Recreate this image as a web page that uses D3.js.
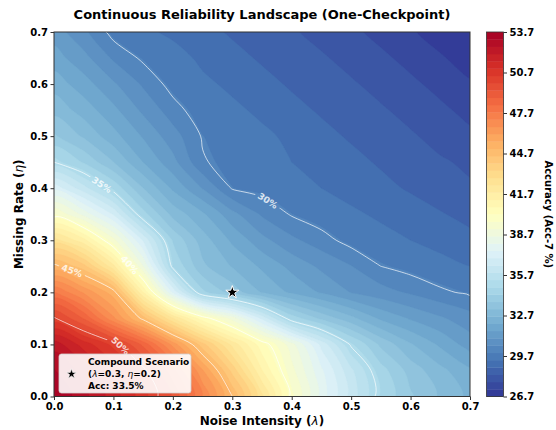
<!DOCTYPE html>
<html>
<head>
<meta charset="utf-8">
<script src="https://cdn.jsdelivr.net/npm/d3@7"></script>
<style>
  body { margin: 0; background: #fff; }
  svg text { font-family: "DejaVu Sans", sans-serif; }
</style>
</head>
<body>
<svg id="chart" width="556" height="430"></svg>
<script>
// ---------------- DATA ----------------
const noiseIntensity = [0.00, 0.05, 0.10, 0.15, 0.20, 0.25, 0.30, 0.35, 0.40, 0.45, 0.50, 0.55, 0.60, 0.65, 0.70];
const missingRate    = [0.00, 0.05, 0.10, 0.15, 0.20, 0.25, 0.30, 0.35, 0.40, 0.45, 0.50, 0.55, 0.60, 0.65, 0.70];

// accuracy (Acc-7 %) per missing-rate row, columns follow noiseIntensity
const accEta000 = [53.7, 52.8, 51.8, 50.7, 49.3, 47.2, 45.0, 42.5, 39.8, 37.8, 36.2, 34.7, 33.8, 33.1, 32.5];
const accEta005 = [53.2, 52.4, 51.3, 50.2, 48.5, 46.2, 43.8, 41.3, 39.3, 37.6, 36.0, 34.5, 33.5, 32.8, 32.2];
const accEta010 = [52.4, 51.3, 50.3, 48.7, 46.5, 44.2, 42.2, 40.4, 38.8, 36.8, 34.9, 33.6, 32.7, 32.0, 31.3];
const accEta015 = [50.1, 48.8, 46.8, 44.8, 42.4, 40.4, 38.9, 36.8, 34.6, 33.6, 32.8, 32.0, 31.5, 31.1, 30.7];
const accEta020 = [47.8, 46.6, 45.3, 41.3, 37.4, 34.4, 33.5, 32.6, 32.0, 31.5, 31.0, 30.7, 30.4, 30.1, 29.9];
const accEta025 = [45.2, 44.2, 42.0, 38.6, 34.8, 33.3, 32.6, 32.0, 31.4, 30.9, 30.5, 30.0, 29.8, 29.6, 29.4];
const accEta030 = [42.6, 41.5, 39.3, 36.9, 34.2, 32.9, 32.0, 31.2, 30.6, 30.2, 29.8, 29.6, 29.4, 29.2, 29.0];
const accEta035 = [39.7, 38.4, 36.9, 34.5, 33.0, 32.2, 31.2, 30.4, 29.95, 29.7, 29.5, 29.3, 29.1, 28.9, 28.7];
const accEta040 = [37.3, 36.1, 34.7, 33.2, 32.0, 31.0, 29.95, 29.8, 29.6, 29.4, 29.2, 29.0, 28.8, 28.6, 28.4];
const accEta045 = [35.0, 34.2, 33.2, 32.1, 31.2, 30.05, 29.8, 29.6, 29.4, 29.2, 29.0, 28.8, 28.6, 28.4, 28.2];
const accEta050 = [33.8, 33.1, 32.3, 31.5, 30.7, 29.95, 29.7, 29.5, 29.3, 29.0, 28.8, 28.6, 28.4, 28.1, 27.9];
const accEta055 = [33.0, 32.4, 31.7, 30.9, 30.2, 29.7, 29.5, 29.3, 29.0, 28.8, 28.6, 28.4, 28.1, 27.9, 27.6];
const accEta060 = [32.4, 31.8, 31.1, 30.4, 29.8, 29.5, 29.3, 29.0, 28.8, 28.6, 28.4, 28.1, 27.9, 27.6, 27.3];
const accEta065 = [31.8, 31.2, 30.4, 29.9, 29.6, 29.3, 29.0, 28.8, 28.6, 28.4, 28.1, 27.9, 27.6, 27.3, 27.0];
const accEta070 = [31.3, 30.6, 29.8, 29.5, 29.3, 29.0, 28.8, 28.6, 28.4, 28.1, 27.9, 27.6, 27.3, 27.0, 26.7];
const accuracyRows = [accEta000, accEta005, accEta010, accEta015, accEta020, accEta025, accEta030,
  accEta035, accEta040, accEta045, accEta050, accEta055, accEta060, accEta065, accEta070];

const contourLevels = [30, 35, 40, 45, 50];
const colorbarTicks = [26.7, 29.7, 32.7, 35.7, 38.7, 41.7, 44.7, 47.7, 50.7, 53.7];
const xTicks = [0.0, 0.1, 0.2, 0.3, 0.4, 0.5, 0.6, 0.7];
const yTicks = [0.0, 0.1, 0.2, 0.3, 0.4, 0.5, 0.6, 0.7];
const scenarioLambda = 0.3, scenarioEta = 0.2, scenarioAcc = 33.5;

// ---------------- LAYOUT / STYLE ----------------
const labelAnchors = [[0.355, 0.368], [0.080, 0.406], [0.131, 0.257], [0.034, 0.253], [0.114, 0.100]];
const rdylbu_r = ["#313695","#4575b4","#74add1","#abd9e9","#e0f3f8","#ffffbf","#fee090","#fdae61","#f46d43","#d73027","#a50026"];
const X0 = 54, X1 = 470, YT = 32, YB = 396.5;
const CB0 = 486.5, CB1 = 503.5;
const FONT = '"DejaVu Sans", sans-serif';

const svg = d3.select("#chart");
const defs = svg.append("defs");
defs.append("clipPath").attr("id", "plotClip")
  .append("rect").attr("x", X0).attr("y", YT).attr("width", X1 - X0).attr("height", YB - YT);

const x = d3.scaleLinear().domain([0, 0.7]).range([X0, X1]);
const y = d3.scaleLinear().domain([0, 0.7]).range([YB, YT]);

const nx = noiseIntensity.length, ny = missingRate.length;
const values = accuracyRows.flat();
const gx = d3.scaleLinear().domain([0.5, nx - 0.5]).range([noiseIntensity[0], noiseIntensity[nx - 1]]);
const gy = d3.scaleLinear().domain([0.5, ny - 0.5]).range([missingRate[0], missingRate[ny - 1]]);
const toPx = p => [x(gx(p[0])), y(gy(p[1]))];

const vmin = d3.min(values), vmax = d3.max(values);
const color = d3.scaleLinear()
  .domain(rdylbu_r.map((c, i) => vmin + (vmax - vmin) * i / (rdylbu_r.length - 1)))
  .range(rdylbu_r).interpolate(d3.interpolateRgb).clamp(true);

const nBands = 50;
const bandEdges = d3.range(nBands + 1).map(i => vmin + (vmax - vmin) * i / nBands);
const bandColor = i => color((bandEdges[i] + bandEdges[i + 1]) / 2);

// ---------------- FILLED CONTOURS ----------------
const closedLine = d3.line().curve(d3.curveCatmullRomClosed.alpha(0.5));
const mpPath = mp => mp.coordinates.map(poly =>
  poly.map(ring => closedLine(ring.slice(0, -1).map(toPx))).join("")).join("");

const bands = d3.contours().size([nx, ny]).thresholds(bandEdges.slice(0, -1))(values);
const gFill = svg.append("g").attr("clip-path", "url(#plotClip)");
gFill.append("rect").attr("x", X0).attr("y", YT).attr("width", X1 - X0).attr("height", YB - YT)
  .attr("fill", bandColor(0));
gFill.selectAll("path").data(bands).join("path")
  .attr("d", d => mpPath(d))
  .attr("fill", (d, i) => bandColor(i))
  .attr("stroke", (d, i) => bandColor(i)).attr("stroke-width", 0.3);

// ---------------- CONTOUR LINES ----------------
function openLines(ring) {
  const pts = ring.slice(0, -1), n = pts.length;
  const onB = p => p[0] <= 0 || p[0] >= nx || p[1] <= 0 || p[1] >= ny;
  let start = -1;
  for (let i = 0; i < n; i++) {
    if (onB(pts[(i - 1 + n) % n]) && onB(pts[i])) { start = i; break; }
  }
  if (start < 0) return [pts.concat([pts[0]])];
  const out = []; let cur = [];
  for (let k = 0; k < n; k++) {
    const i = (start + k) % n, p = pts[i], prev = pts[(i - 1 + n) % n];
    if (onB(p) && onB(prev)) { if (cur.length > 1) out.push(cur); cur = [p]; }
    else cur.push(p);
  }
  if (cur.length > 1) out.push(cur);
  return out;
}

const openLine = d3.line().curve(d3.curveCatmullRom.alpha(0.5));
const mask = defs.append("mask").attr("id", "lblMask").attr("maskUnits", "userSpaceOnUse")
  .attr("x", 0).attr("y", 0).attr("width", 556).attr("height", 430);
mask.append("rect").attr("x", 0).attr("y", 0).attr("width", 556).attr("height", 430).attr("fill", "#fff");

const gLinesClip = svg.append("g").attr("clip-path", "url(#plotClip)");
const gLines = gLinesClip.append("g").attr("mask", "url(#lblMask)");
const gLabels = svg.append("g");

contourLevels.forEach((lv, k) => {
  const mp = d3.contours().size([nx, ny]).thresholds([lv])(values)[0];
  const polylines = [];
  mp.coordinates.forEach(poly => poly.forEach(ring =>
    openLines(ring).forEach(l => polylines.push(l.map(toPx)))));
  polylines.forEach(pl => {
    gLines.append("path").attr("d", openLine(pl))
      .attr("fill", "none").attr("stroke", "#fff").attr("stroke-opacity", 0.75).attr("stroke-width", 0.9);
  });
  const a = [x(labelAnchors[k][0]), y(labelAnchors[k][1])];
  let best = null;
  polylines.forEach(pl => {
    for (let i = 0; i < pl.length - 1; i++) {
      const p = pl[i], q = pl[i + 1];
      const dx = q[0] - p[0], dy = q[1] - p[1];
      const L2 = dx * dx + dy * dy; if (L2 === 0) continue;
      let t = ((a[0] - p[0]) * dx + (a[1] - p[1]) * dy) / L2; t = Math.max(0, Math.min(1, t));
      const c = [p[0] + t * dx, p[1] + t * dy];
      const dist = Math.hypot(c[0] - a[0], c[1] - a[1]);
      if (!best || dist < best.dist) best = { dist, c, ang: Math.atan2(dy, dx) * 180 / Math.PI };
    }
  });
  if (!best) return;
  let ang = best.ang; if (ang > 90) ang -= 180; if (ang < -90) ang += 180;
  const t = gLabels.append("text")
    .attr("transform", `translate(${best.c[0]},${best.c[1]}) rotate(${ang})`)
    .attr("text-anchor", "middle").attr("dy", "0.35em")
    .attr("font-size", 9).attr("font-weight", "bold")
    .attr("fill", "#fff").attr("fill-opacity", 0.8)
    .text(lv + "%");
  const w = t.node().getComputedTextLength();
  mask.append("rect").attr("transform", `translate(${best.c[0]},${best.c[1]}) rotate(${ang})`)
    .attr("x", -w / 2 - 3).attr("y", -6).attr("width", w + 6).attr("height", 12).attr("fill", "#000");
});

// ---------------- SCENARIO STAR ----------------
svg.append("path")
  .attr("d", d3.symbol(d3.symbolStar, 52)())
  .attr("transform", `translate(${x(scenarioLambda)},${y(scenarioEta)})`)
  .attr("fill", "#000").attr("stroke", "#fff").attr("stroke-width", 1);

// ---------------- FRAME & AXES ----------------
svg.append("rect").attr("x", X0).attr("y", YT).attr("width", X1 - X0).attr("height", YB - YT)
  .attr("fill", "none").attr("stroke", "#333").attr("stroke-width", 1);

const fmt = d3.format(".1f");
const gx_ = svg.append("g").attr("transform", `translate(0,${YB})`)
  .call(d3.axisBottom(x).tickValues(xTicks).tickFormat(fmt).tickSize(3.5).tickSizeOuter(0).tickPadding(2.5));
const gy_ = svg.append("g").attr("transform", `translate(${X0},0)`)
  .call(d3.axisLeft(y).tickValues(yTicks).tickFormat(fmt).tickSize(3.5).tickSizeOuter(0).tickPadding(2.5));
[gx_, gy_].forEach(g => {
  g.select(".domain").remove();
  g.attr("font-family", FONT).attr("font-size", 10);
  g.selectAll(".tick line").attr("stroke", "#333");
  g.selectAll(".tick text").attr("font-weight", "bold").attr("fill", "#000");
});

const xl = svg.append("text").attr("x", (X0 + X1) / 2).attr("y", 425)
  .attr("text-anchor", "middle").attr("font-size", 12).attr("font-weight", "bold");
xl.append("tspan").text("Noise Intensity (");
xl.append("tspan").attr("font-style", "italic").attr("font-weight", "normal").text("λ");
xl.append("tspan").text(")");

const yl = svg.append("text").attr("transform", `translate(23,${(YT + YB) / 2}) rotate(-90)`)
  .attr("text-anchor", "middle").attr("font-size", 12).attr("font-weight", "bold");
yl.append("tspan").text("Missing Rate (");
yl.append("tspan").attr("font-style", "italic").attr("font-weight", "normal").text("η");
yl.append("tspan").text(")");

svg.append("text").attr("x", (X0 + X1) / 2).attr("y", 19)
  .attr("text-anchor", "middle").attr("font-size", 13).attr("font-weight", "bold")
  .text("Continuous Reliability Landscape (One-Checkpoint)");

// ---------------- LEGEND ----------------
const lg = svg.append("g");
lg.append("rect").attr("x", 59).attr("y", 354).attr("width", 132).attr("height", 39).attr("rx", 2.5)
  .attr("fill", "#fff").attr("fill-opacity", 0.9).attr("stroke", "#d0d0d0").attr("stroke-width", 0.8);
lg.append("path").attr("d", d3.symbol(d3.symbolStar, 30)())
  .attr("transform", "translate(71.5,374)").attr("fill", "#000").attr("stroke", "#fff").attr("stroke-width", 0.6);
const lt = lg.append("text").attr("font-size", 9).attr("font-weight", "bold").attr("fill", "#000");
lt.append("tspan").attr("x", 88).attr("y", 365).text("Compound Scenario");
const l2 = lt.append("tspan").attr("x", 88).attr("y", 377);
l2.append("tspan").text("(");
l2.append("tspan").attr("font-style", "italic").attr("font-weight", "normal").text("λ");
l2.append("tspan").text("=" + scenarioLambda + ", ");
l2.append("tspan").attr("font-style", "italic").attr("font-weight", "normal").text("η");
l2.append("tspan").text("=" + scenarioEta + ")");
lt.append("tspan").attr("x", 88).attr("y", 388.5).text("Acc: " + scenarioAcc + "%");

// ---------------- COLORBAR ----------------
const cbY = d3.scaleLinear().domain([vmin, vmax]).range([YB, YT]);
const cb = svg.append("g");
cb.selectAll("rect.band").data(d3.range(nBands)).join("rect").attr("class", "band")
  .attr("x", CB0).attr("width", CB1 - CB0)
  .attr("y", i => cbY(bandEdges[i + 1]))
  .attr("height", i => cbY(bandEdges[i]) - cbY(bandEdges[i + 1]) + 0.4)
  .attr("fill", i => bandColor(i));
cb.append("rect").attr("x", CB0).attr("y", YT).attr("width", CB1 - CB0).attr("height", YB - YT)
  .attr("fill", "none").attr("stroke", "#333").attr("stroke-width", 0.8);
const cax = svg.append("g").attr("transform", `translate(${CB1},0)`)
  .call(d3.axisRight(cbY).tickValues(colorbarTicks).tickFormat(fmt).tickSize(3.5).tickSizeOuter(0).tickPadding(2.5));
cax.select(".domain").remove();
cax.attr("font-family", FONT).attr("font-size", 10);
cax.selectAll(".tick line").attr("stroke", "#333");
cax.selectAll(".tick text").attr("font-weight", "bold").attr("fill", "#000");

svg.append("text").attr("transform", `translate(548,${(YT + YB) / 2}) rotate(90)`)
  .attr("text-anchor", "middle").attr("dy", "0.35em")
  .attr("font-size", 10).attr("font-weight", "bold")
  .text("Accuracy (Acc-7 %)");
</script>
</body>
</html>
